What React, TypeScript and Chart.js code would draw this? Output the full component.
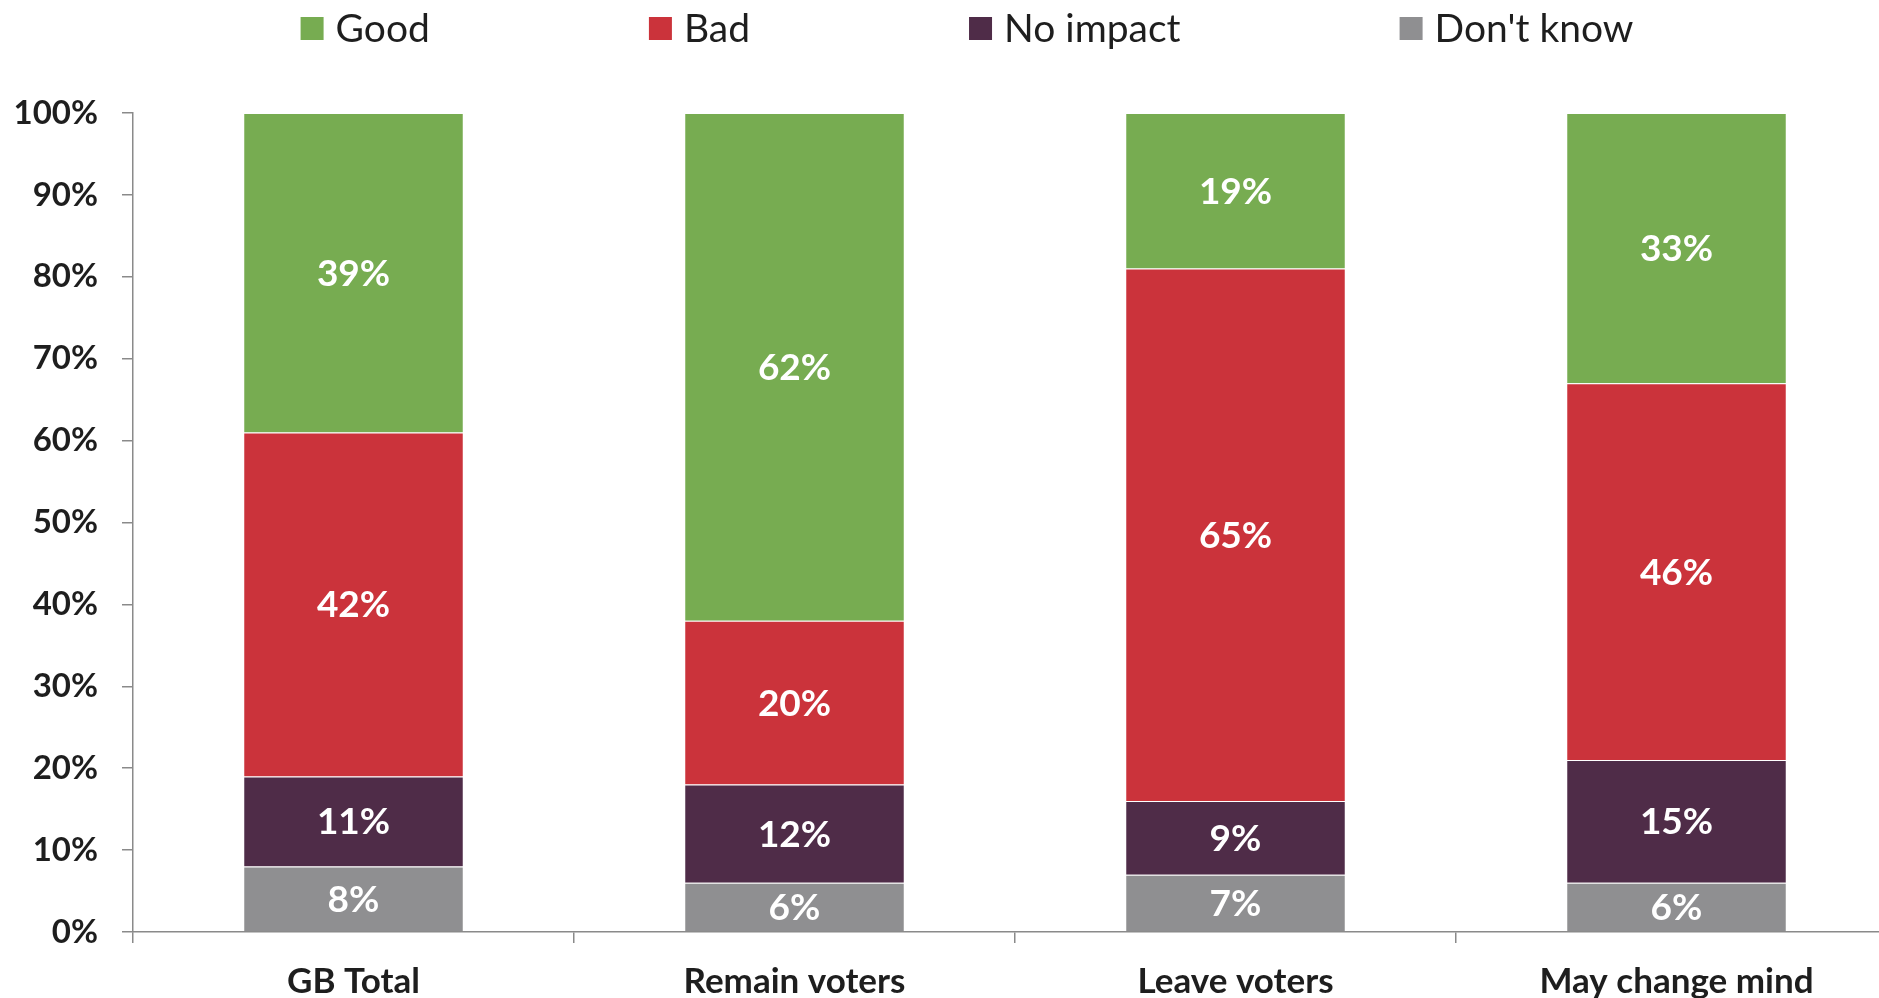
import React, { useEffect, useRef } from "react";
import { Chart, registerables } from "chart.js";

Chart.register(...registerables);

// ---- data ----
const categories = ["GB Total", "Remain voters", "Leave voters", "May change mind"];
const seriesNames = ["Good", "Bad", "No impact", "Don't know"];
const goodValues = [39, 62, 19, 33];
const badValues = [42, 20, 65, 46];
const noImpactValues = [11, 12, 9, 15];
const dontKnowValues = [8, 6, 7, 6];
const yTickValues = [0, 10, 20, 30, 40, 50, 60, 70, 80, 90, 100];

// ---- styles ----
const COLORS = {
  good: "#77AC51",
  bad: "#CB333B",
  noImpact: "#4F2C48",
  dontKnow: "#8F8F91",
};
const FONT = "Lato, 'Open Sans', sans-serif";
const TEXT = "#1e1e1e";
const AXIS = "#8a8a8a";

const legendPlugin = {
  id: "topLegend",
  afterDraw(chart: any) {
    const ctx = chart.ctx;
    const items = [
      { label: seriesNames[0], color: COLORS.good },
      { label: seriesNames[1], color: COLORS.bad },
      { label: seriesNames[2], color: COLORS.noImpact },
      { label: seriesNames[3], color: COLORS.dontKnow },
    ];
    const box = 23;
    const boxGap = 12;
    const itemGap = 219;
    ctx.save();
    ctx.font = `400 39px ${FONT}`;
    const widths = items.map((it) => box + boxGap + ctx.measureText(it.label).width);
    const total = widths.reduce((a, b) => a + b, 0) + itemGap * (items.length - 1);
    let x = chart.width / 2 + 17 - total / 2;
    const cy = 28.5;
    ctx.textBaseline = "middle";
    ctx.textAlign = "left";
    items.forEach((it, i) => {
      ctx.fillStyle = it.color;
      ctx.fillRect(x, cy - box / 2, box, box);
      ctx.fillStyle = TEXT;
      ctx.fillText(it.label, x + box + boxGap, cy + 1);
      x += widths[i] + itemGap;
    });
    ctx.restore();
  },
};

const valueLabelPlugin = {
  id: "valueLabels",
  afterDatasetsDraw(chart: any) {
    const ctx = chart.ctx;
    ctx.save();
    ctx.font = `700 37px ${FONT}`;
    ctx.fillStyle = "#ffffff";
    ctx.textAlign = "center";
    ctx.textBaseline = "middle";
    chart.data.datasets.forEach((ds: any, di: number) => {
      const meta = chart.getDatasetMeta(di);
      meta.data.forEach((bar: any, i: number) => {
        const v = ds.data[i];
        const cy = (bar.y + bar.base) / 2;
        ctx.fillText(`${v}%`, bar.x, cy + 1);
      });
    });
    ctx.restore();
  },
};

export default function App() {
  const canvasRef = useRef<HTMLCanvasElement | null>(null);

  useEffect(() => {
    if (!canvasRef.current) return;
    const border = "rgba(255,255,255,0.55)";
    const chart = new Chart(canvasRef.current, {
      type: "bar",
      data: {
        labels: categories,
        datasets: [
          { label: seriesNames[3], data: dontKnowValues, backgroundColor: COLORS.dontKnow, borderColor: border, borderWidth: 1 },
          { label: seriesNames[2], data: noImpactValues, backgroundColor: COLORS.noImpact, borderColor: border, borderWidth: 1 },
          { label: seriesNames[1], data: badValues, backgroundColor: COLORS.bad, borderColor: border, borderWidth: 1 },
          { label: seriesNames[0], data: goodValues, backgroundColor: COLORS.good, borderColor: border, borderWidth: 1 },
        ],
      },
      options: {
        animation: false,
        responsive: true,
        maintainAspectRatio: false,
        layout: { padding: { top: 113, right: 3, left: 0, bottom: 0 } },
        datasets: { bar: { barPercentage: 0.5, categoryPercentage: 1 } },
        plugins: {
          legend: { display: false },
          tooltip: { enabled: false },
        },
        scales: {
          x: {
            stacked: true,
            offset: true,
            grid: {
              offset: true,
              drawOnChartArea: false,
              drawTicks: true,
              tickLength: 11,
              color: AXIS,
              lineWidth: 1.5,
            },
            border: { display: true, color: AXIS, width: 1.5 },
            ticks: {
              color: TEXT,
              font: { family: FONT, size: 35, weight: "bold" },
              padding: 18,
              maxRotation: 0,
              autoSkip: false,
            },
            afterFit: (scale: any) => {
              scale.height = 66;
            },
          },
          y: {
            stacked: true,
            min: 0,
            max: 100,
            afterBuildTicks: (scale: any) => {
              scale.ticks = yTickValues.map((v) => ({ value: v }));
            },
            grid: {
              drawOnChartArea: false,
              drawTicks: true,
              tickLength: 11,
              color: AXIS,
              lineWidth: 1.5,
            },
            border: { display: true, color: AXIS, width: 1.5 },
            ticks: {
              color: TEXT,
              font: { family: FONT, size: 33, weight: "bold" },
              padding: 24,
              callback: (v: any) => `${v}%`,
            },
            afterFit: (scale: any) => {
              scale.width = 133;
            },
          },
        },
      },
      plugins: [legendPlugin, valueLabelPlugin],
    });
    return () => chart.destroy();
  }, []);

  return (
    <div
      style={{
        position: "fixed",
        left: 0,
        top: 0,
        width: 1879,
        height: 998,
        overflow: "hidden",
        background: "#ffffff",
      }}
    >
      <div style={{ position: "relative", width: 1900, height: 998 }}>
        <canvas ref={canvasRef} />
      </div>
    </div>
  );
}
